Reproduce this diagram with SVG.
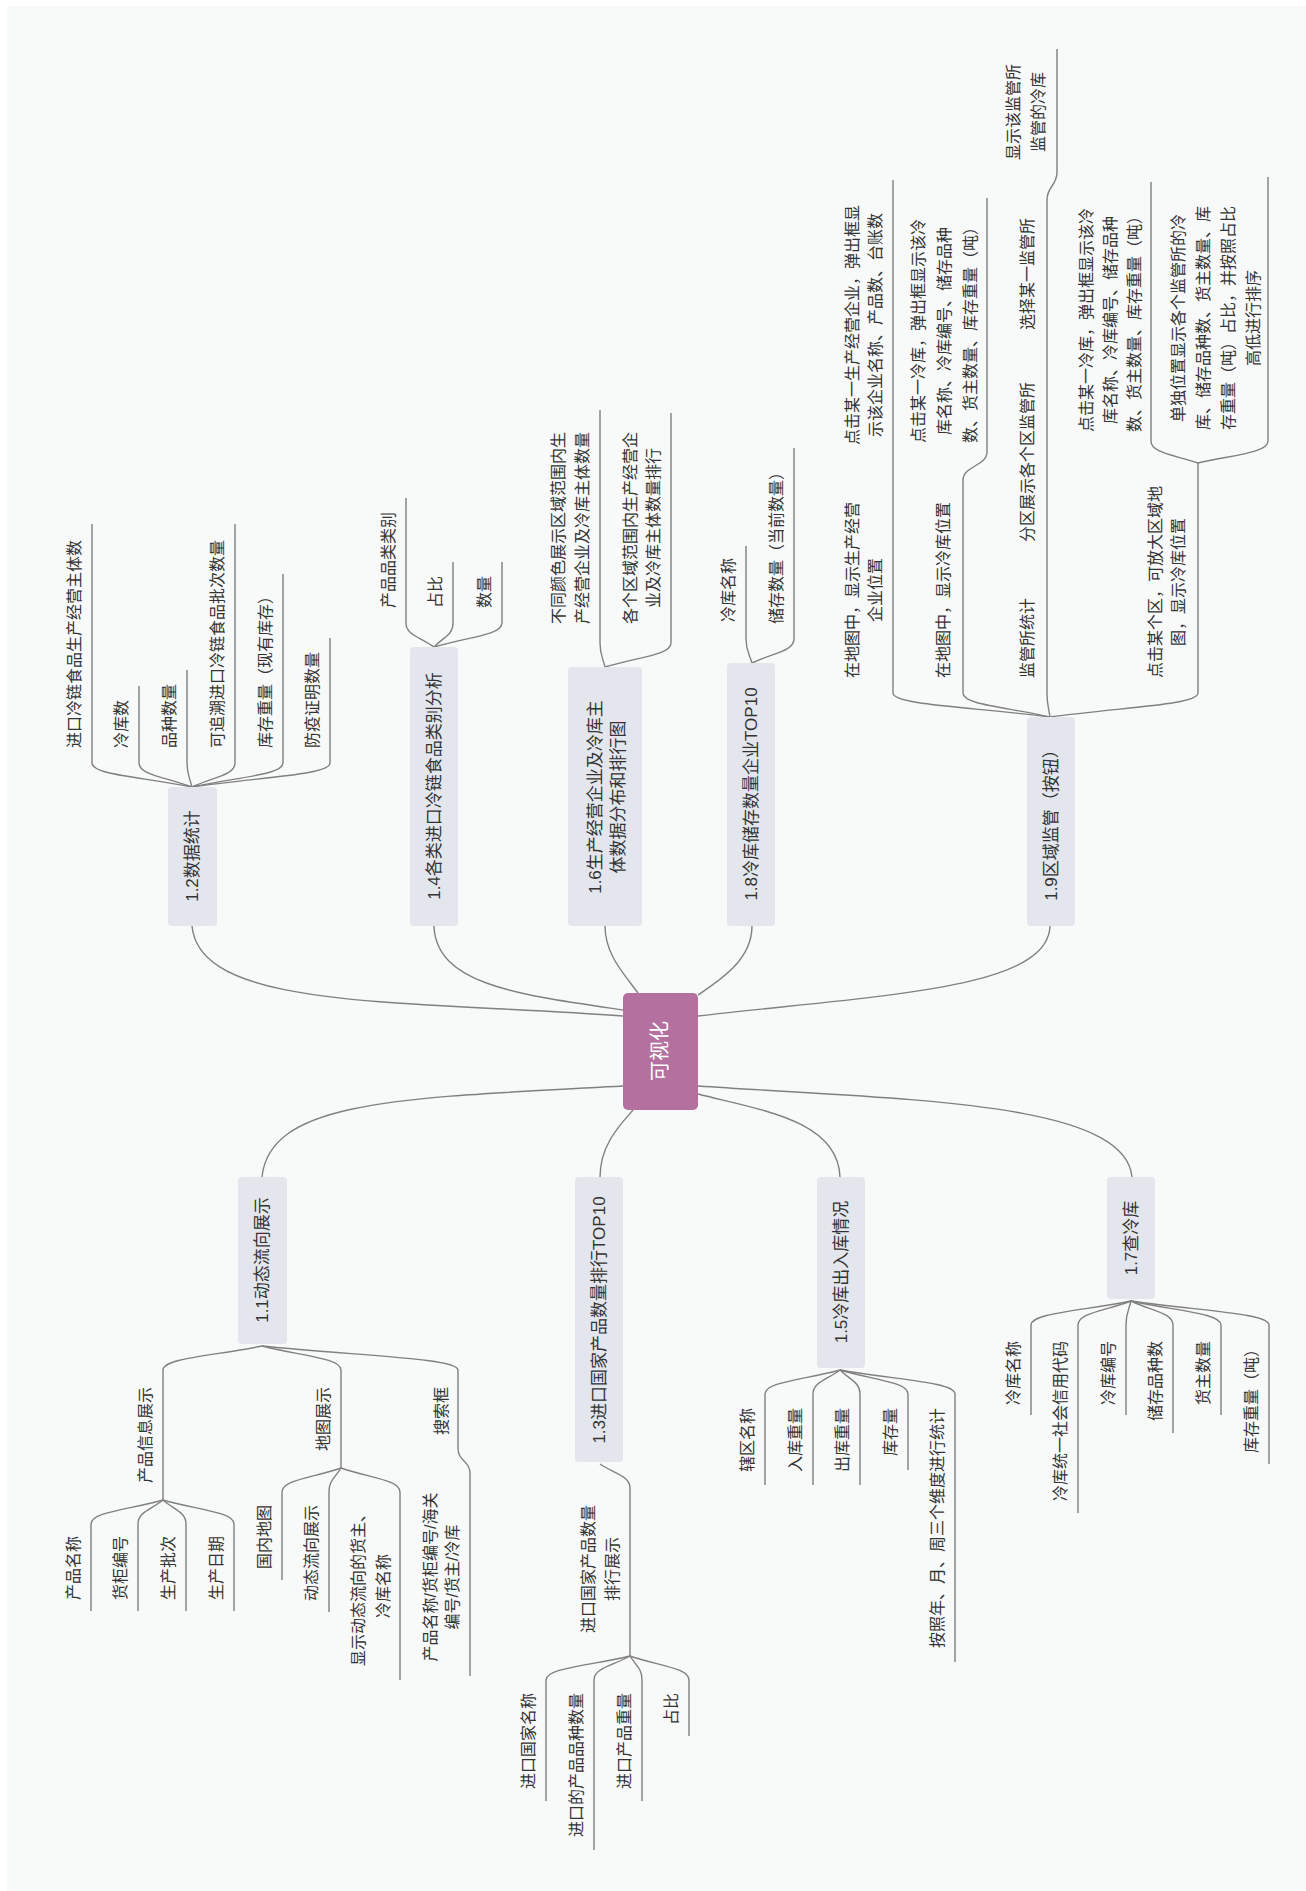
<svg xmlns="http://www.w3.org/2000/svg" width="1306" height="1891" viewBox="0 0 1306 1891">
<style>
  text { font-family: "Liberation Sans", "Noto Sans CJK SC", sans-serif; fill: #333; text-anchor: middle; dominant-baseline: central; }
  .leaf { font-size: 16px; }
  .main { font-size: 17px; }
  .root { font-size: 20px; fill: #fff; }
  .box { fill: #e3e6ed; }
  .ln { fill: none; stroke: #808080; stroke-width: 1.4; }
</style>
<rect x="0" y="0" width="1306" height="1891" fill="#ffffff"/>
<rect x="7" y="6" width="1299" height="1885" fill="#f8f9f9"/>

<!-- connectors -->
<g id="connectors">
  <!-- root to main topics -->
  <path class="ln" d="M623,1016 C400,1000 200,1010 192,926"/>
  <path class="ln" d="M434,926 C436,985 520,995 623,1010"/>
  <path class="ln" d="M605,926 C605,955 625,975 638,993"/>
  <path class="ln" d="M752,926 C752,960 720,980 698,995"/>
  <path class="ln" d="M1050,926 C1048,990 880,995 698,1016"/>
  <path class="ln" d="M623,1086 C400,1098 270,1100 262,1177"/>
  <path class="ln" d="M600,1177 C600,1145 620,1125 633,1110"/>
  <path class="ln" d="M840,1177 C838,1120 760,1110 698,1094"/>
  <path class="ln" d="M698,1086 C900,1100 1125,1100 1132,1177"/>

  <!-- 1.2 branches -->
  <path class="ln" d="M92,524 V763 C92,775 142,777 192,787"/>
  <path class="ln" d="M139,686 V763 C139,775 165.5,777 192,787"/>
  <path class="ln" d="M187,670 V763 C187,775 189.5,777 192,787"/>
  <path class="ln" d="M235,524 V763 C235,775 213.5,777 192,787"/>
  <path class="ln" d="M283,574 V763 C283,775 237.5,777 192,787"/>
  <path class="ln" d="M330,638 V763 C330,775 261,777 192,787"/>

  <!-- 1.4 branches -->
  <path class="ln" d="M406,498 V623 C406,635 420,637 434,647"/>
  <path class="ln" d="M453,562 V623 C453,635 443.5,637 434,647"/>
  <path class="ln" d="M502,562 V623 C502,635 468,637 434,647"/>

  <!-- 1.6 branches -->
  <path class="ln" d="M600,410 V643 C600,655 602.5,657 605,667"/>
  <path class="ln" d="M671,413 V643 C671,655 638,657 605,667"/>

  <!-- 1.8 branches -->
  <path class="ln" d="M746,546 V639 C746,651 749,653 752,663"/>
  <path class="ln" d="M794,448 V639 C794,651 773,653 752,663"/>

  <!-- 1.9 branches -->
  <path class="ln" d="M893,180 V693 C893,705 971.5,707 1050,717"/>
  <path class="ln" d="M987,198 V452 C987,466 963,466 963,480 V693 C963,705 1006.5,707 1050,717"/>
  <path class="ln" d="M1057,49 V172 C1057,186 1047,186 1047,200 V693 C1047,705 1048.5,707 1050,717"/>
  <path class="ln" d="M1198,463 V693 C1198,705 1124,707 1050,717"/>
  <path class="ln" d="M1151,182 V441 C1151,453 1174.5,455 1198,463"/>
  <path class="ln" d="M1268,177 V441 C1268,453 1233,455 1198,463"/>

  <!-- 1.1 branches -->
  <path class="ln" d="M262,1346 C212.5,1356 163,1358 163,1370 V1500"/>
  <path class="ln" d="M163,1500 C127,1510 91,1512 91,1524 V1611"/>
  <path class="ln" d="M163,1500 C150.5,1510 138,1512 138,1524 V1611"/>
  <path class="ln" d="M163,1500 C174.5,1510 186,1512 186,1524 V1611"/>
  <path class="ln" d="M163,1500 C198.5,1510 234,1512 234,1524 V1611"/>
  <path class="ln" d="M262,1346 C301.5,1356 341,1358 341,1370 V1468"/>
  <path class="ln" d="M341,1468 C311.5,1478 282,1480 282,1492 V1580"/>
  <path class="ln" d="M341,1468 C335,1478 329,1480 329,1492 V1612"/>
  <path class="ln" d="M341,1468 C370.5,1478 400,1480 400,1492 V1680"/>
  <path class="ln" d="M262,1346 C360,1356 458,1358 458,1370 V1448 C458,1462 470,1460 470,1474 V1676"/>

  <!-- 1.3 branches -->
  <path class="ln" d="M600,1464 C615,1474 630,1476 630,1488 V1656"/>
  <path class="ln" d="M630,1656 C588,1666 546,1668 546,1680 V1801"/>
  <path class="ln" d="M630,1656 C612,1666 594,1668 594,1680 V1850"/>
  <path class="ln" d="M630,1656 C636,1666 642,1668 642,1680 V1801"/>
  <path class="ln" d="M630,1656 C659.5,1666 689,1668 689,1680 V1736"/>

  <!-- 1.5 branches -->
  <path class="ln" d="M840,1370 C802.5,1380 765,1382 765,1394 V1485"/>
  <path class="ln" d="M840,1370 C826.5,1380 813,1382 813,1394 V1485"/>
  <path class="ln" d="M840,1370 C850,1380 860,1382 860,1394 V1485"/>
  <path class="ln" d="M840,1370 C874,1380 908,1382 908,1394 V1470"/>
  <path class="ln" d="M840,1370 C897.5,1380 955,1382 955,1394 V1662"/>

  <!-- 1.7 branches -->
  <path class="ln" d="M1131,1301 C1081,1311 1031,1313 1031,1325 V1415"/>
  <path class="ln" d="M1131,1301 C1104.5,1311 1078,1313 1078,1325 V1513"/>
  <path class="ln" d="M1131,1301 C1128.5,1311 1126,1313 1126,1325 V1415"/>
  <path class="ln" d="M1131,1301 C1152,1311 1173,1313 1173,1325 V1433"/>
  <path class="ln" d="M1131,1301 C1176,1311 1221,1313 1221,1325 V1415"/>
  <path class="ln" d="M1131,1301 C1200,1311 1269,1313 1269,1325 V1464"/>
</g>

<!-- root -->
<g id="root">
  <rect x="623" y="993" width="75" height="117" rx="5" fill="#b4709e"/>
  <text class="root" transform="translate(660,1051) rotate(-90)">可视化</text>
</g>

<!-- main topics -->
<g id="t1-2">
  <rect class="box" x="168" y="787" width="49" height="139" rx="4"/>
  <text class="main" transform="translate(192,856) rotate(-90)">1.2数据统计</text>
</g>
<g id="t1-4">
  <rect class="box" x="410" y="647" width="48" height="279" rx="4"/>
  <text class="main" transform="translate(434,786) rotate(-90)">1.4各类进口冷链食品类别分析</text>
</g>
<g id="t1-6">
  <rect class="box" x="568" y="667" width="74" height="259" rx="4"/>
  <text class="main" transform="translate(595,797) rotate(-90)"><tspan x="0">1.6生产经营企业及冷库主</tspan><tspan x="0" dy="23">体数据分布和排行图</tspan></text>
</g>
<g id="t1-8">
  <rect class="box" x="727" y="663" width="48" height="263" rx="4"/>
  <text class="main" transform="translate(751,794) rotate(-90)">1.8冷库储存数量企业TOP10</text>
</g>
<g id="t1-9">
  <rect class="box" x="1027" y="717" width="48" height="209" rx="4"/>
  <text class="main" transform="translate(1051,821) rotate(-90)">1.9区域监管（按钮）</text>
</g>
<g id="t1-1">
  <rect class="box" x="238" y="1177" width="49" height="167" rx="4"/>
  <text class="main" transform="translate(262,1260) rotate(-90)">1.1动态流向展示</text>
</g>
<g id="t1-3">
  <rect class="box" x="575" y="1177" width="48" height="285" rx="4"/>
  <text class="main" transform="translate(599,1320) rotate(-90)">1.3进口国家产品数量排行TOP10</text>
</g>
<g id="t1-5">
  <rect class="box" x="817" y="1177" width="48" height="191" rx="4"/>
  <text class="main" transform="translate(841,1272) rotate(-90)">1.5冷库出入库情况</text>
</g>
<g id="t1-7">
  <rect class="box" x="1107" y="1177" width="48" height="122" rx="4"/>
  <text class="main" transform="translate(1131,1238) rotate(-90)">1.7查冷库</text>
</g>

<!-- 1.2 leaves -->
<g id="n1-2-1"><text class="leaf" transform="translate(74,644) rotate(-90)">进口冷链食品生产经营主体数</text></g>
<g id="n1-2-2"><text class="leaf" transform="translate(121,724) rotate(-90)">冷库数</text></g>
<g id="n1-2-3"><text class="leaf" transform="translate(169,716) rotate(-90)">品种数量</text></g>
<g id="n1-2-4"><text class="leaf" transform="translate(217,644) rotate(-90)">可追溯进口冷链食品批次数量</text></g>
<g id="n1-2-5"><text class="leaf" transform="translate(265,668) rotate(-90)">库存重量（现有库存）</text></g>
<g id="n1-2-6"><text class="leaf" transform="translate(312,700) rotate(-90)">防疫证明数量</text></g>

<!-- 1.4 leaves -->
<g id="n1-4-1"><text class="leaf" transform="translate(388,560) rotate(-90)">产品品类类别</text></g>
<g id="n1-4-2"><text class="leaf" transform="translate(435,592) rotate(-90)">占比</text></g>
<g id="n1-4-3"><text class="leaf" transform="translate(484,592) rotate(-90)">数量</text></g>

<!-- 1.6 leaves -->
<g id="n1-6-1"><text class="leaf" transform="translate(558,528) rotate(-90)"><tspan x="0">不同颜色展示区域范围内生</tspan><tspan x="0" dy="24">产经营企业及冷库主体数量</tspan></text></g>
<g id="n1-6-2"><text class="leaf" transform="translate(630,528) rotate(-90)"><tspan x="0">各个区域范围内生产经营企</tspan><tspan x="0" dy="23">业及冷库主体数量排行</tspan></text></g>

<!-- 1.8 leaves -->
<g id="n1-8-1"><text class="leaf" transform="translate(728,590) rotate(-90)">冷库名称</text></g>
<g id="n1-8-2"><text class="leaf" transform="translate(776,544) rotate(-90)">储存数量（当前数量）</text></g>

<!-- 1.9 leaves -->
<g id="n1-9-1"><text class="leaf" transform="translate(852,590) rotate(-90)"><tspan x="0">在地图中，显示生产经营</tspan><tspan x="0" dy="23">企业位置</tspan></text></g>
<g id="n1-9-1-1"><text class="leaf" transform="translate(852,325) rotate(-90)"><tspan x="0">点击某一生产经营企业，弹出框显</tspan><tspan x="0" dy="23">示该企业名称、产品数、台账数</tspan></text></g>
<g id="n1-9-2"><text class="leaf" transform="translate(943,590) rotate(-90)">在地图中，显示冷库位置</text></g>
<g id="n1-9-2-1"><text class="leaf" transform="translate(918,331) rotate(-90)"><tspan x="0">点击某一冷库，弹出框显示该冷</tspan><tspan x="0" dy="26">库名称、冷库编号、储存品种</tspan><tspan x="0" dy="26">数、货主数量、库存重量（吨）</tspan></text></g>
<g id="n1-9-3"><text class="leaf" transform="translate(1027,638) rotate(-90)">监管所统计</text></g>
<g id="n1-9-3-1"><text class="leaf" transform="translate(1027,462) rotate(-90)">分区展示各个区监管所</text></g>
<g id="n1-9-3-2"><text class="leaf" transform="translate(1027,274) rotate(-90)">选择某一监管所</text></g>
<g id="n1-9-3-3"><text class="leaf" transform="translate(1013,112) rotate(-90)"><tspan x="0">显示该监管所</tspan><tspan x="0" dy="25">监管的冷库</tspan></text></g>
<g id="n1-9-4"><text class="leaf" transform="translate(1155,582) rotate(-90)"><tspan x="0">点击某个区，可放大区域地</tspan><tspan x="0" dy="23">图，显示冷库位置</tspan></text></g>
<g id="n1-9-4-1"><text class="leaf" transform="translate(1086,320) rotate(-90)"><tspan x="0">点击某一冷库，弹出框显示该冷</tspan><tspan x="0" dy="24">库名称、冷库编号、储存品种</tspan><tspan x="0" dy="24">数、货主数量、库存重量（吨）</tspan></text></g>
<g id="n1-9-4-2"><text class="leaf" transform="translate(1178,318) rotate(-90)"><tspan x="0">单独位置显示各个监管所的冷</tspan><tspan x="0" dy="25">库、储存品种数、货主数量、库</tspan><tspan x="0" dy="25">存重量（吨）占比，并按照占比</tspan><tspan x="0" dy="25">高低进行排序</tspan></text></g>

<!-- 1.1 leaves -->
<g id="n1-1-1"><text class="leaf" transform="translate(145,1435) rotate(-90)">产品信息展示</text></g>
<g id="n1-1-1-1"><text class="leaf" transform="translate(73,1568) rotate(-90)">产品名称</text></g>
<g id="n1-1-1-2"><text class="leaf" transform="translate(120,1568) rotate(-90)">货柜编号</text></g>
<g id="n1-1-1-3"><text class="leaf" transform="translate(168,1568) rotate(-90)">生产批次</text></g>
<g id="n1-1-1-4"><text class="leaf" transform="translate(216,1568) rotate(-90)">生产日期</text></g>
<g id="n1-1-2"><text class="leaf" transform="translate(323,1419) rotate(-90)">地图展示</text></g>
<g id="n1-1-2-1"><text class="leaf" transform="translate(264,1537) rotate(-90)">国内地图</text></g>
<g id="n1-1-2-2"><text class="leaf" transform="translate(311,1553) rotate(-90)">动态流向展示</text></g>
<g id="n1-1-2-3"><text class="leaf" transform="translate(358,1586) rotate(-90)"><tspan x="0">显示动态流向的货主、</tspan><tspan x="0" dy="25">冷库名称</tspan></text></g>
<g id="n1-1-3"><text class="leaf" transform="translate(441,1411) rotate(-90)">搜索框</text></g>
<g id="n1-1-3-1"><text class="leaf" transform="translate(430,1577) rotate(-90)"><tspan x="0">产品名称/货柜编号/海关</tspan><tspan x="0" dy="22">编号/货主/冷库</tspan></text></g>

<!-- 1.3 leaves -->
<g id="n1-3-1"><text class="leaf" transform="translate(588,1569) rotate(-90)"><tspan x="0">进口国家产品数量</tspan><tspan x="0" dy="24">排行展示</tspan></text></g>
<g id="n1-3-1-1"><text class="leaf" transform="translate(528,1741) rotate(-90)">进口国家名称</text></g>
<g id="n1-3-1-2"><text class="leaf" transform="translate(576,1765) rotate(-90)">进口的产品品种数量</text></g>
<g id="n1-3-1-3"><text class="leaf" transform="translate(624,1741) rotate(-90)">进口产品重量</text></g>
<g id="n1-3-1-4"><text class="leaf" transform="translate(671,1709) rotate(-90)">占比</text></g>

<!-- 1.5 leaves -->
<g id="n1-5-1"><text class="leaf" transform="translate(747,1440) rotate(-90)">辖区名称</text></g>
<g id="n1-5-2"><text class="leaf" transform="translate(795,1440) rotate(-90)">入库重量</text></g>
<g id="n1-5-3"><text class="leaf" transform="translate(842,1440) rotate(-90)">出库重量</text></g>
<g id="n1-5-4"><text class="leaf" transform="translate(890,1432) rotate(-90)">库存量</text></g>
<g id="n1-5-5"><text class="leaf" transform="translate(937,1528) rotate(-90)">按照年、月、周三个维度进行统计</text></g>

<!-- 1.7 leaves -->
<g id="n1-7-1"><text class="leaf" transform="translate(1013,1373) rotate(-90)">冷库名称</text></g>
<g id="n1-7-2"><text class="leaf" transform="translate(1060,1421) rotate(-90)">冷库统一社会信用代码</text></g>
<g id="n1-7-3"><text class="leaf" transform="translate(1108,1373) rotate(-90)">冷库编号</text></g>
<g id="n1-7-4"><text class="leaf" transform="translate(1155,1381) rotate(-90)">储存品种数</text></g>
<g id="n1-7-5"><text class="leaf" transform="translate(1203,1373) rotate(-90)">货主数量</text></g>
<g id="n1-7-6"><text class="leaf" transform="translate(1251,1397) rotate(-90)">库存重量（吨）</text></g>
</svg>
